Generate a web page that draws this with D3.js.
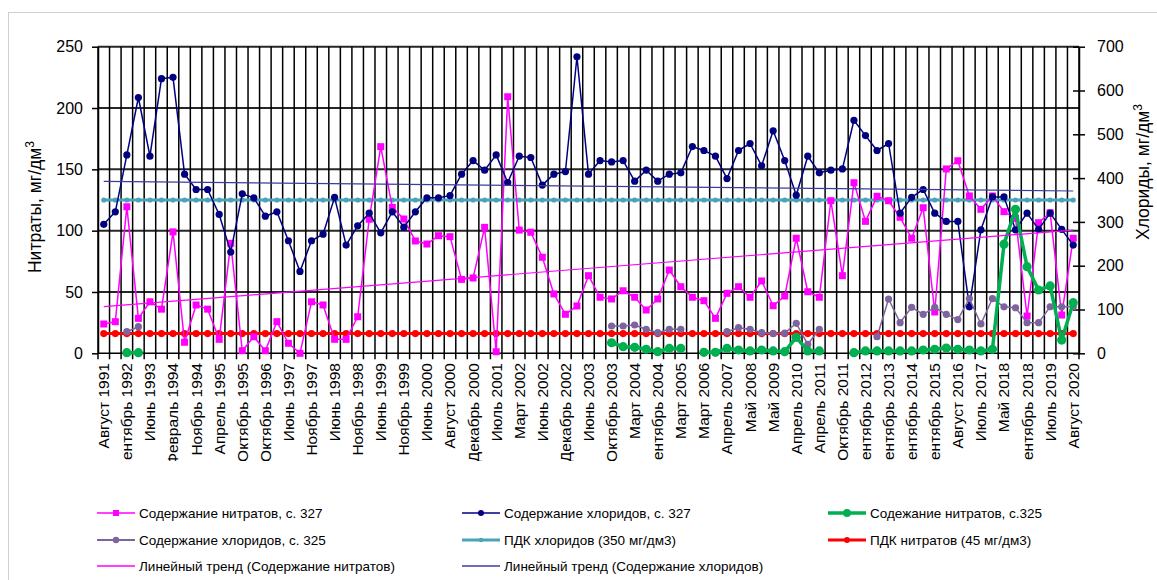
<!DOCTYPE html>
<html><head><meta charset="utf-8">
<script src="https://cdn.jsdelivr.net/npm/d3@7"></script>
<style>body{margin:0;background:#fff}svg{display:block;font-family:Arial,"Liberation Sans",sans-serif}</style>
</head><body><svg id="c" width="1157" height="580"></svg>
<script>
const categories=["Август 1991","Март 1992","Сентябрь 1992","Январь 1993","Июнь 1993","Октябрь 1993","Февраль 1994","Июнь 1994","Ноябрь 1994","Февраль 1995","Апрель 1995","Июнь 1995","Октябрь 1995","Апрель 1996","Октябрь 1996","Февраль 1997","Июнь 1997","Сентябрь 1997","Ноябрь 1997","Март 1998","Июнь 1998","Сентябрь 1998","Ноябрь 1998","Март 1999","Июнь 1999","Сентябрь 1999","Ноябрь 1999","Март 2000","Июнь 2000","Июль 2000","Август 2000","Октябрь 2000","Декабрь 2000","Март 2001","Июль 2001","Октябрь 2001","Март 2002","Апрель 2002","Июнь 2002","Сентябрь 2002","Декабрь 2002","Март 2003","Июнь 2003","Август 2003","Октябрь 2003","Декабрь 2003","Март 2004","Июнь 2004","Сентябрь 2004","Декабрь 2004","Март 2005","Сентябрь 2005","Март 2006","Сентябрь 2006","Апрель 2007","Октябрь 2007","Май 2008","Октябрь 2008","Май 2009","Октябрь 2009","Апрель 2010","Октябрь 2010","Апрель 2011","Июль 2011","Октябрь 2011","Апрель 2012","Сентябрь 2012","Апрель 2013","Сентябрь 2013","Апрель 2014","Сентябрь 2014","Апрель 2015","Сентябрь 2015","Апрель 2016","Август 2016","Апрель 2017","Июль 2017","Октябрь 2017","Май 2018","Июль 2018","Сентябрь 2018","Апрель 2019","Июль 2019","Апрель 2020","Август 2020"];
const nitrates327=[23.9,25.8,119.5,28.5,42,36,99,9,39.4,36,11.4,89.7,2.1,13.5,2.1,25.8,8.2,0,42,39.4,11.4,11.4,29.8,109.3,168.5,119,109.5,91.6,89.1,95.9,95.1,60.3,61.4,102.7,1.3,209.2,100.5,98.7,78.3,48.4,31.8,38.6,63.3,45.7,44.3,51,45.7,35.3,44.3,67.9,54.3,45.7,42.9,28.5,48.9,54.3,45.7,59,38.8,46.7,93.8,50.2,45.7,124.4,63.3,139.1,107.6,128,124.4,110.9,93.8,118.7,33.7,150.3,157,128.3,117.4,128.3,115.5,110,30.4,106.5,114.6,31.2,93.8];
const chlorides327=[294.5,323,453,584,450,627,630,409,374,374,317,231,364,355,313,323,257,187,257,272,356,247,291,320,275,323,288,323,355,355,360,409,440,418,453,390,450,447,384,409,415,677,409,440,437,440,393,418,393,409,412,472,463,450,399,463,479,428,508,440,361,450,412,418,421,532,497,463,479,320,356,374,320,301,301,106,282,357,357,282,320,283,320,283,247];
const nitrates325=[null,null,0.5,0.5,null,null,null,null,null,null,null,null,null,null,null,null,null,null,null,null,null,null,null,null,null,null,null,null,null,null,null,null,null,null,null,null,null,null,null,null,null,null,null,null,8.6,5.4,4.9,3.3,1.3,4,4,null,0.8,0.8,4,2.7,1.9,2.7,1.9,1.3,13,1.9,1.9,null,null,0.5,1.9,1.9,1.9,1.9,1.9,2.7,3.3,4.3,3.3,2.7,1.9,3.3,89,117.4,70.6,51.6,54.9,10.8,41.3];
const chlorides325=[null,null,49.3,60.7,null,null,null,null,null,null,null,null,null,null,null,null,null,null,null,null,null,null,null,null,null,null,null,null,null,null,null,null,null,null,null,null,null,null,null,null,null,null,null,null,62.3,62.3,64.6,54.8,47,54.8,54.8,null,null,null,49.3,58.4,54.8,47,45,46,68.5,20.5,54.8,null,null,null,null,37.9,124,70,105,89,105,89,77,125,67,125,106,104,70,70,106,106,106];
const pdkChlorides=categories.map(()=>350);
const pdkNitrates=categories.map(()=>45);
const trendNitrates=[38,100.5];
const trendChlorides=[392.7,370.5];
const leftTicks=[0,50,100,150,200,250];
const rightTicks=[0,100,200,300,400,500,600,700];

const svg=d3.select('#c');
svg.append('rect').attr('x',8.5).attr('y',12.5).attr('width',1170).attr('height',600).attr('fill','#fff').attr('stroke','#d0d0d0');
const M={l:98,r:1079,t:46.7,b:353.3};
const n=categories.length;
const x=d3.scaleBand().domain(d3.range(n)).range([M.l,M.r]).padding(0);
const cx=i=>x(i)+x.bandwidth()/2;
const yL=d3.scaleLinear().domain([0,250]).range([M.b,M.t]);
const yR=d3.scaleLinear().domain([0,700]).range([M.b,M.t]);

svg.append('g').selectAll('line').data(leftTicks.filter(v=>v>0)).join('line')
  .attr('x1',M.l).attr('x2',M.r).attr('y1',d=>yL(d)).attr('y2',d=>yL(d))
  .attr('stroke','#262626').attr('stroke-width',2);
svg.append('g').selectAll('line').data(d3.range(n+1)).join('line')
  .attr('x1',i=>M.l+i*x.step()).attr('x2',i=>M.l+i*x.step())
  .attr('y1',M.t).attr('y2',M.b+6)
  .attr('stroke','#000').attr('stroke-width',1.5);
svg.append('line').attr('x1',M.l).attr('x2',M.r).attr('y1',M.b).attr('y2',M.b).attr('stroke','#000').attr('stroke-width',1.5);

const gl=svg.append('g').attr('transform',`translate(${M.l},0)`)
  .call(d3.axisLeft(yL).tickValues(leftTicks).tickSizeInner(6).tickSizeOuter(0).tickPadding(9));
gl.select('.domain').attr('stroke','#000').attr('stroke-width',1.5);
gl.selectAll('.tick line').attr('stroke','#000').attr('stroke-width',1.5);
gl.selectAll('.tick text').attr('font-size',16).attr('fill','#000').attr('font-family','Arial,"Liberation Sans",sans-serif');
const gr=svg.append('g').attr('transform',`translate(${M.r},0)`)
  .call(d3.axisRight(yR).tickValues(rightTicks).tickSizeInner(6).tickSizeOuter(0).tickPadding(12));
gr.select('.domain').attr('stroke','#000').attr('stroke-width',1.5);
gr.selectAll('.tick line').attr('stroke','#000').attr('stroke-width',1.5).attr('x1',-6);
gr.selectAll('.tick text').attr('font-size',16).attr('fill','#000').attr('font-family','Arial,"Liberation Sans",sans-serif');

svg.append('defs').append('clipPath').attr('id','lblclip').append('rect').attr('x',0).attr('y',355).attr('width',1157).attr('height',106);
svg.append('g').attr('clip-path','url(#lblclip)').selectAll('text')
  .data(d3.range(0,n,2)).join('text')
  .attr('transform',i=>`translate(${cx(i)},363) rotate(-90)`)
  .attr('text-anchor','end').attr('dy','0.35em').attr('font-size',15.5).attr('fill','#000')
  .text(i=>categories[i]);

function title(xp,yp,label){
  const t=svg.append('text').attr('transform',`translate(${xp},${yp}) rotate(-90)`)
    .attr('text-anchor','middle').attr('font-size',17.5).attr('fill','#000');
  t.append('tspan').text(label);
  t.append('tspan').attr('font-size',12).attr('dy',-7).text('3');
}
title(41,207,'Нитраты, мг/дм');
title(1149,172,'Хлориды, мг/дм');

function series(vals,y,color,w,marker,size){
  const line=d3.line().defined(d=>d!=null).x((d,i)=>cx(i)).y(d=>y(d));
  const g=svg.append('g');
  g.append('path').attr('d',line(vals)).attr('fill','none').attr('stroke',color).attr('stroke-width',w).attr('stroke-linejoin','round');
  const pts=vals.map((v,i)=>({v,i})).filter(d=>d.v!=null);
  if(marker==='square'){
    g.selectAll('rect').data(pts).join('rect').attr('x',d=>cx(d.i)-size/2).attr('y',d=>y(d.v)-size/2)
      .attr('width',size).attr('height',size).attr('fill',color);
  } else {
    g.selectAll('circle').data(pts).join('circle').attr('cx',d=>cx(d.i)).attr('cy',d=>y(d.v)).attr('r',size).attr('fill',color);
  }
}
const C={mag:'#FF00FF',navy:'#000080',green:'#00B050',gray:'#7E649E',teal:'#4BA3BA',red:'#FF0000',trN:'#FF00FF',trC:'#3C3CA0'};
series(pdkChlorides,yR,C.teal,3,'circle',2.6);
series(pdkNitrates,yR,C.red,3,'circle',3.6);
series(nitrates327,yL,C.mag,1.5,'square',7);
series(chlorides327,yR,C.navy,1.5,'circle',3.6);
series(chlorides325,yR,C.gray,1.5,'circle',3.6);
series(nitrates325,yL,C.green,3.5,'circle',4.6);
svg.append('line').attr('x1',cx(0)).attr('x2',cx(n-1)).attr('y1',yL(trendNitrates[0])).attr('y2',yL(trendNitrates[1])).attr('stroke',C.trN).attr('stroke-width',1.2);
svg.append('line').attr('x1',cx(0)).attr('x2',cx(n-1)).attr('y1',yR(trendChlorides[0])).attr('y2',yR(trendChlorides[1])).attr('stroke',C.trC).attr('stroke-width',1.2);

const legend=[
 {t:'Содержание нитратов, с. 327',c:C.mag,w:1.5,m:'square',s:6,col:0,row:0},
 {t:'Содержание хлоридов, с. 327',c:C.navy,w:1.5,m:'circle',s:3,col:1,row:0},
 {t:'Содежание нитратов, с.325',c:C.green,w:3.5,m:'circle',s:4,col:2,row:0},
 {t:'Содержание хлоридов, с. 325',c:C.gray,w:2,m:'circle',s:3.2,col:0,row:1},
 {t:'ПДК хлоридов (350 мг/дм3)',c:C.teal,w:3,m:'circle',s:2.2,col:1,row:1},
 {t:'ПДК нитратов (45 мг/дм3)',c:C.red,w:3,m:'circle',s:3,col:2,row:1},
 {t:'Линейный тренд (Содержание нитратов)',c:C.trN,w:1.5,m:null,col:0,row:2},
 {t:'Линейный тренд (Содержание хлоридов)',c:C.trC,w:1.5,m:null,col:1,row:2}
];
const colX=[97,462,828], rowY=[513,540,566];
const lg=svg.append('g');
legend.forEach(d=>{
  const x0=colX[d.col], y0=rowY[d.row];
  lg.append('line').attr('x1',x0).attr('x2',x0+38).attr('y1',y0).attr('y2',y0).attr('stroke',d.c).attr('stroke-width',d.w);
  if(d.m==='square') lg.append('rect').attr('x',x0+19-d.s/2).attr('y',y0-d.s/2).attr('width',d.s).attr('height',d.s).attr('fill',d.c);
  else if(d.m==='circle') lg.append('circle').attr('cx',x0+19).attr('cy',y0).attr('r',d.s).attr('fill',d.c);
  lg.append('text').attr('x',x0+42).attr('y',y0).attr('dy','0.35em').attr('font-size',13.5).attr('fill','#000').text(d.t);
});
</script></body></html>
